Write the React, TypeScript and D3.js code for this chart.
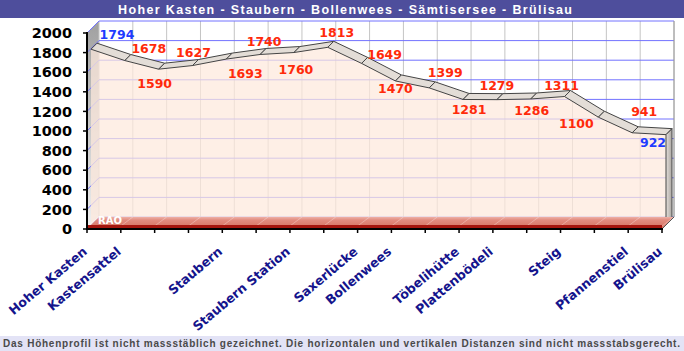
import React, { useRef, useEffect } from "react";
import * as d3 from "d3";

// stations along the route (empty = waypoint without name)
const stations = [
  "Hoher Kasten", "Kastensattel", "", "", "Staubern", "", "Staubern Station", "",
  "Saxerlücke", "Bollenwees", "", "Töbelihütte", "Plattenbödeli", "", "Steig", "",
  "Pfannenstiel", "Brülisau",
];
const elevations = [
  1794, 1678, 1590, 1627, 1693, 1740, 1760, 1813, 1649, 1470, 1399, 1281, 1279, 1286,
  1311, 1100, 941, 922,
];
const yTickValues = [0, 200, 400, 600, 800, 1000, 1200, 1400, 1600, 1800, 2000];
const floorSeriesName = "RAO";
const title = "Hoher Kasten - Staubern - Bollenwees - Sämtisersee - Brülisau";
const footnote =
  "Das Höhenprofil ist nicht massstäblich gezeichnet. Die horizontalen und vertikalen Distanzen sind nicht massstabsgerecht.";

// where each value label sits relative to its point (layout only)
const labelNudge: [number, number][] = [
  [30, -19], [28, -16], [0, 10], [5, -17], [23, 10], [8, -17], [6, 13], [13, -19], [27, -13],
  [4, 4], [20, -19], [10, 6], [4, -18], [5, 8], [1, -15], [-18, 2], [16, -25], [-9, 4],
];

const W = 684;
const H = 351;

const ElevationChart = () => {
  const svgRef = useRef<SVGSVGElement>(null);

  useEffect(() => {
    const svg = d3.select(svgRef.current);
    svg.selectAll("*").remove();

    const left = 87, right = 662, base = 229, top = 33;
    const depth = 12; // wall depth
    const d1 = 4, d2 = 10; // depth slot of the area series
    const n = elevations.length;

    const x = d3.scaleLinear().domain([0, n - 1]).range([left, right]);
    const y = d3.scaleLinear().domain([0, 2000]).range([base, top]);

    const defs = svg.append("defs");
    const wallGrad = defs.append("linearGradient").attr("id", "wallGrad")
      .attr("x1", 0).attr("y1", 0).attr("x2", 0).attr("y2", 1);
    wallGrad.append("stop").attr("offset", "0%").attr("stop-color", "#a0a0a0");
    wallGrad.append("stop").attr("offset", "100%").attr("stop-color", "#f0f0f0");
    const floorGrad = defs.append("linearGradient").attr("id", "floorGrad")
      .attr("x1", 0).attr("y1", 0).attr("x2", 0).attr("y2", 1);
    floorGrad.append("stop").attr("offset", "0%").attr("stop-color", "#eeb0a6");
    floorGrad.append("stop").attr("offset", "25%").attr("stop-color", "#e28c80");
    floorGrad.append("stop").attr("offset", "100%").attr("stop-color", "#d4705f");
    const sideGrad = defs.append("linearGradient").attr("id", "sideGrad")
      .attr("x1", 0).attr("y1", 0).attr("x2", 1).attr("y2", 0);
    sideGrad.append("stop").attr("offset", "0%").attr("stop-color", "#e4dfda");
    sideGrad.append("stop").attr("offset", "100%").attr("stop-color", "#a9a5a1");

    // title bar
    svg.append("rect").attr("x", 0).attr("y", 0).attr("width", W).attr("height", 18)
      .attr("fill", "#4e4e9c");
    svg.append("text").attr("x", 118).attr("y", 13.5)
      .attr("textLength", 454).attr("lengthAdjust", "spacing")
      .attr("fill", "#ffffff").attr("font-family", "Liberation Sans, Arial, sans-serif")
      .attr("font-weight", "bold").attr("font-size", 12.5)
      .text(title);

    // back wall
    svg.append("rect").attr("x", left + depth).attr("y", top - depth)
      .attr("width", right - left).attr("height", base - top).attr("fill", "#ffffff");

    // left wall
    svg.append("polygon")
      .attr("points", [[left, top], [left + depth, top - depth], [left + depth, base - depth], [left, base]].join(" "))
      .attr("fill", "url(#wallGrad)");

    // vertical grid
    elevations.forEach((_, i) => {
      svg.append("line").attr("x1", x(i) + depth).attr("x2", x(i) + depth)
        .attr("y1", top - depth).attr("y2", base - depth)
        .attr("stroke", "#c4c4c4").attr("stroke-width", 1);
    });
    // horizontal grid on back & left wall
    yTickValues.forEach((t) => {
      svg.append("line").attr("x1", left + depth).attr("x2", right + depth)
        .attr("y1", y(t) - depth).attr("y2", y(t) - depth)
        .attr("stroke", "#7272ff").attr("stroke-width", 1);
      svg.append("line").attr("x1", left).attr("x2", left + depth)
        .attr("y1", y(t)).attr("y2", y(t) - depth)
        .attr("stroke", "#7272ff").attr("stroke-width", 1);
    });
    svg.append("line").attr("x1", right + depth).attr("x2", right + depth)
      .attr("y1", top - depth).attr("y2", base - depth).attr("stroke", "#9a9a9a");

    // area front face
    const area = d3.area<number>()
      .x((_, i) => x(i) + d1)
      .y0(base - d1)
      .y1((v) => y(v) - d1);
    svg.append("path").datum(elevations).attr("d", area)
      .attr("fill", "#fde9dc").attr("fill-opacity", 0.72);

    // area top ribbon
    for (let i = 0; i < n - 1; i++) {
      const pts = [
        [x(i) + d1, y(elevations[i]) - d1],
        [x(i + 1) + d1, y(elevations[i + 1]) - d1],
        [x(i + 1) + d2, y(elevations[i + 1]) - d2],
        [x(i) + d2, y(elevations[i]) - d2],
      ];
      svg.append("polygon").attr("points", pts.join(" "))
        .attr("fill", "#e3ddd7").attr("stroke", "#444").attr("stroke-width", 1)
        .attr("stroke-linejoin", "round");
    }

    // area right face
    const last = n - 1;
    svg.append("polygon")
      .attr("points", [
        [x(last) + d1, y(elevations[last]) - d1],
        [x(last) + d2, y(elevations[last]) - d2],
        [x(last) + d2, base - d2],
        [x(last) + d1, base - d1],
      ].join(" "))
      .attr("fill", "url(#sideGrad)").attr("stroke", "#444").attr("stroke-width", 1);

    // floor series
    svg.append("polygon")
      .attr("points", [[left, base], [right, base], [right + depth, base - depth], [left + depth, base - depth]].join(" "))
      .attr("fill", "url(#floorGrad)");
    elevations.forEach((_, i) => {
      svg.append("line").attr("x1", x(i)).attr("x2", x(i) + depth)
        .attr("y1", base - 3).attr("y2", base - depth)
        .attr("stroke", "#ffffff").attr("stroke-opacity", 0.3);
    });
    svg.append("rect").attr("x", left).attr("y", base - 4).attr("width", right - left).attr("height", 4)
      .attr("fill", "#a5150e");
    svg.append("line").attr("x1", right).attr("x2", right + depth)
      .attr("y1", base).attr("y2", base - depth).attr("stroke", "#555").attr("stroke-width", 1);
    svg.append("text").attr("x", left + 11).attr("y", base - 5.5)
      .attr("fill", "#ffffff").attr("font-family", "DejaVu Sans, Verdana, sans-serif")
      .attr("font-weight", "bold").attr("font-size", 10).text(floorSeriesName);

    // axes
    const axisFont = "DejaVu Sans, Verdana, sans-serif";
    svg.append("line").attr("x1", left).attr("x2", left).attr("y1", top - 1).attr("y2", base + 1)
      .attr("stroke", "#000").attr("stroke-width", 2);
    svg.append("line").attr("x1", left - 1).attr("x2", right + 1).attr("y1", base).attr("y2", base)
      .attr("stroke", "#000").attr("stroke-width", 2);
    yTickValues.forEach((t) => {
      svg.append("line").attr("x1", left - 4).attr("x2", left).attr("y1", y(t)).attr("y2", y(t))
        .attr("stroke", "#000").attr("stroke-width", 1.5);
      svg.append("text").attr("x", 72).attr("y", y(t)).attr("dy", "0.36em")
        .attr("text-anchor", "end").attr("font-family", axisFont).attr("font-weight", "bold")
        .attr("font-size", 14.5).attr("fill", "#000").text(t);
    });
    elevations.forEach((_, i) => {
      svg.append("line").attr("x1", x(i)).attr("x2", x(i)).attr("y1", base).attr("y2", base + 4)
        .attr("stroke", "#000").attr("stroke-width", 1.5);
    });
    stations.forEach((s, i) => {
      if (!s) return;
      svg.append("text")
        .attr("transform", `translate(${x(i) + 1},${253}) rotate(-40)`)
        .attr("text-anchor", "end").attr("font-family", axisFont).attr("font-weight", "bold")
        .attr("font-size", 12.7).attr("fill", "#14148c").text(s);
    });

    // value labels
    elevations.forEach((v, i) => {
      const blue = i === 0 || i === last;
      svg.append("text")
        .attr("x", x(i) + labelNudge[i][0]).attr("y", y(v) + labelNudge[i][1]).attr("dy", "0.36em")
        .attr("text-anchor", "middle").attr("font-family", axisFont).attr("font-weight", "bold")
        .attr("font-size", 12.5).attr("fill", blue ? "#1f3cff" : "#ff2a0a").text(v);
    });

    // footnote bar
    svg.append("rect").attr("x", 0).attr("y", 336).attr("width", W).attr("height", H - 336)
      .attr("fill", "#e3e3f6");
    svg.append("text").attr("x", 3).attr("y", 347).attr("textLength", 677).attr("lengthAdjust", "spacing")
      .attr("fill", "#4a4a4a").attr("font-family", "Liberation Sans, Arial, sans-serif")
      .attr("font-weight", "bold").attr("font-size", 10).text(footnote);
  }, []);

  return <svg ref={svgRef} width={W} height={H} style={{ position: "absolute", left: 0, top: 0 }}></svg>;
};

export default function App() {
  return <ElevationChart />;
}
